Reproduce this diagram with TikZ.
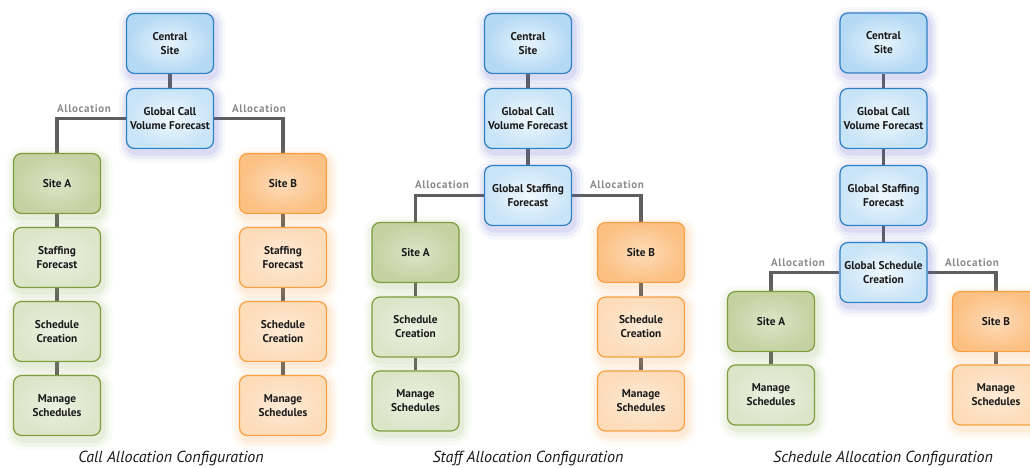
\documentclass[tikz,border=0pt]{standalone}
\usepackage{fontspec}
\setmainfont{PT Sans}
\usetikzlibrary{shadows,backgrounds}
\definecolor{bluebd}{HTML}{2F7FC4}
\definecolor{bluedk}{HTML}{B4D9F4}
\definecolor{bluelt}{HTML}{E6F4FD}
\definecolor{blueglow}{HTML}{5B5FC8}
\definecolor{greenbd}{HTML}{7D9C3C}
\definecolor{greendk}{HTML}{C3D2A0}
\definecolor{greenmid}{HTML}{DCE5C8}
\definecolor{greenlt}{HTML}{EBF0E0}
\definecolor{greenglow}{HTML}{8FAE55}
\definecolor{orangebd}{HTML}{F7A043}
\definecolor{orangedk}{HTML}{FCC083}
\definecolor{orangemid}{HTML}{FDDCB9}
\definecolor{orangelt}{HTML}{FEEAD6}
\definecolor{orangeglow}{HTML}{F9A857}
\definecolor{conncol}{HTML}{5E5E5E}
\definecolor{alloccol}{HTML}{8A8A8A}
\definecolor{txt}{HTML}{1A1A1A}
\begin{document}
\begin{tikzpicture}[x=1pt,y=-1pt,
  boxbase/.style={rounded corners=8pt, minimum width=87pt, minimum height=60pt,
    align=center, text=txt, font=\bfseries\fontsize{11.3}{14}\selectfont, line width=1.2pt, inner sep=1pt},
  glow/.style={
    general shadow={draw=#1, line width=20pt, opacity=0.05, shadow xshift=2pt, shadow yshift=-4pt},
    general shadow={draw=#1, line width=13pt, opacity=0.08, shadow xshift=2pt, shadow yshift=-4pt},
    general shadow={draw=#1, line width=6pt, opacity=0.11, shadow xshift=2pt, shadow yshift=-4pt}},
  bluebox/.style={boxbase, draw=bluebd, inner color=bluelt, outer color=bluedk, glow=blueglow},
  blueboxl/.style={boxbase, draw=bluebd, inner color=bluelt!60!white, outer color=bluedk!60!bluelt, glow=blueglow},
  greend/.style={boxbase, draw=greenbd, inner color=greenmid, outer color=greendk, glow=greenglow},
  greenl/.style={boxbase, draw=greenbd, inner color=greenlt, outer color=greenmid, glow=greenglow},
  oranged/.style={boxbase, draw=orangebd, inner color=orangemid, outer color=orangedk, glow=orangeglow},
  orangel/.style={boxbase, draw=orangebd, inner color=orangelt, outer color=orangemid, glow=orangeglow},
  conn/.style={draw=conncol, line width=3.5pt},
  alloc/.style={text=alloccol, font=\bfseries\fontsize{11}{12}\selectfont\addfontfeatures{LetterSpace=6}, anchor=base, inner sep=0pt},
  caption/.style={text=txt, font=\itshape\fontsize{16}{18}\selectfont, anchor=base, inner sep=0pt}
]
\useasboundingbox (0,0) rectangle (1030,467);

% ---------- Panel 1 ----------
\node[bluebox] (c1) at (170,43.5) {Central\\Site};
\node[blueboxl] (g1) at (170,118.5) {Global Call\\Volume Forecast};
\node[greend] (a1) at (57,183.5) {Site A};
\node[greenl] (a1s) at (57,257.5) {Staffing\\Forecast};
\node[greenl] (a1c) at (57,331.5) {Schedule\\Creation};
\node[greenl] (a1m) at (57,405.5) {Manage\\Schedules};
\node[oranged] (b1) at (283,183.5) {Site B};
\node[orangel] (b1s) at (283,257.5) {Staffing\\Forecast};
\node[orangel] (b1c) at (283,331.5) {Schedule\\Creation};
\node[orangel] (b1m) at (283,405.5) {Manage\\Schedules};
\node[alloc] (l1a) at (84,112) {Allocation};
\node[alloc] (l1b) at (259,112) {Allocation};
\node[caption] (cap1) at (171,462.5) {Call Allocation Configuration};

% ---------- Panel 2 ----------
\node[bluebox] (c2) at (528,43.5) {Central\\Site};
\node[blueboxl] (g2) at (528,118.5) {Global Call\\Volume Forecast};
\node[blueboxl] (s2) at (528,195.5) {Global Staffing\\Forecast};
\node[greend] (a2) at (415.5,252.5) {Site A};
\node[greenl] (a2c) at (415.5,327) {Schedule\\Creation};
\node[greenl] (a2m) at (415.5,401) {Manage\\Schedules};
\node[oranged] (b2) at (641,252.5) {Site B};
\node[orangel] (b2c) at (641,327) {Schedule\\Creation};
\node[orangel] (b2m) at (641,401) {Manage\\Schedules};
\node[alloc] (l2a) at (442,188) {Allocation};
\node[alloc] (l2b) at (617,188) {Allocation};
\node[caption] (cap2) at (528,462.5) {Staff Allocation Configuration};

% ---------- Panel 3 ----------
\node[bluebox] (c3) at (883.5,43) {Central\\Site};
\node[blueboxl] (g3) at (883.5,118.5) {Global Call\\Volume Forecast};
\node[blueboxl] (s3) at (883.5,195.5) {Global Staffing\\Forecast};
\node[blueboxl] (sc3) at (883.5,272.5) {Global Schedule\\Creation};
\node[greend] (a3) at (771,321.5) {Site A};
\node[greenl] (a3m) at (771,395) {Manage\\Schedules};
\node[oranged] (b3) at (996,321.5) {Site B};
\node[orangel] (b3m) at (996,395) {Manage\\Schedules};
\node[alloc] (l3a) at (798,266) {Allocation};
\node[alloc] (l3b) at (972,266) {Allocation};
\node[caption] (cap3) at (883,462) {Schedule Allocation Configuration};

% ---------- Connectors ----------
\begin{scope}[on background layer]
\draw[conn] (c1) -- (g1);
\draw[conn] (g1.west) -| (a1.north);
\draw[conn] (g1.east) -| (b1.north);
\draw[conn] (a1) -- (a1s); \draw[conn] (a1s) -- (a1c); \draw[conn] (a1c) -- (a1m);
\draw[conn] (b1) -- (b1s); \draw[conn] (b1s) -- (b1c); \draw[conn] (b1c) -- (b1m);

\draw[conn] (c2) -- (g2); \draw[conn] (g2) -- (s2);
\draw[conn] (s2.west) -| (a2.north);
\draw[conn] (s2.east) -| (b2.north);
\draw[conn] (a2) -- (a2c); \draw[conn] (a2c) -- (a2m);
\draw[conn] (b2) -- (b2c); \draw[conn] (b2c) -- (b2m);

\draw[conn] (c3) -- (g3); \draw[conn] (g3) -- (s3); \draw[conn] (s3) -- (sc3);
\draw[conn] (sc3.west) -| (a3.north);
\draw[conn] (sc3.east) -| (b3.north);
\draw[conn] (a3) -- (a3m);
\draw[conn] (b3) -- (b3m);
\end{scope}
\end{tikzpicture}
\end{document}
